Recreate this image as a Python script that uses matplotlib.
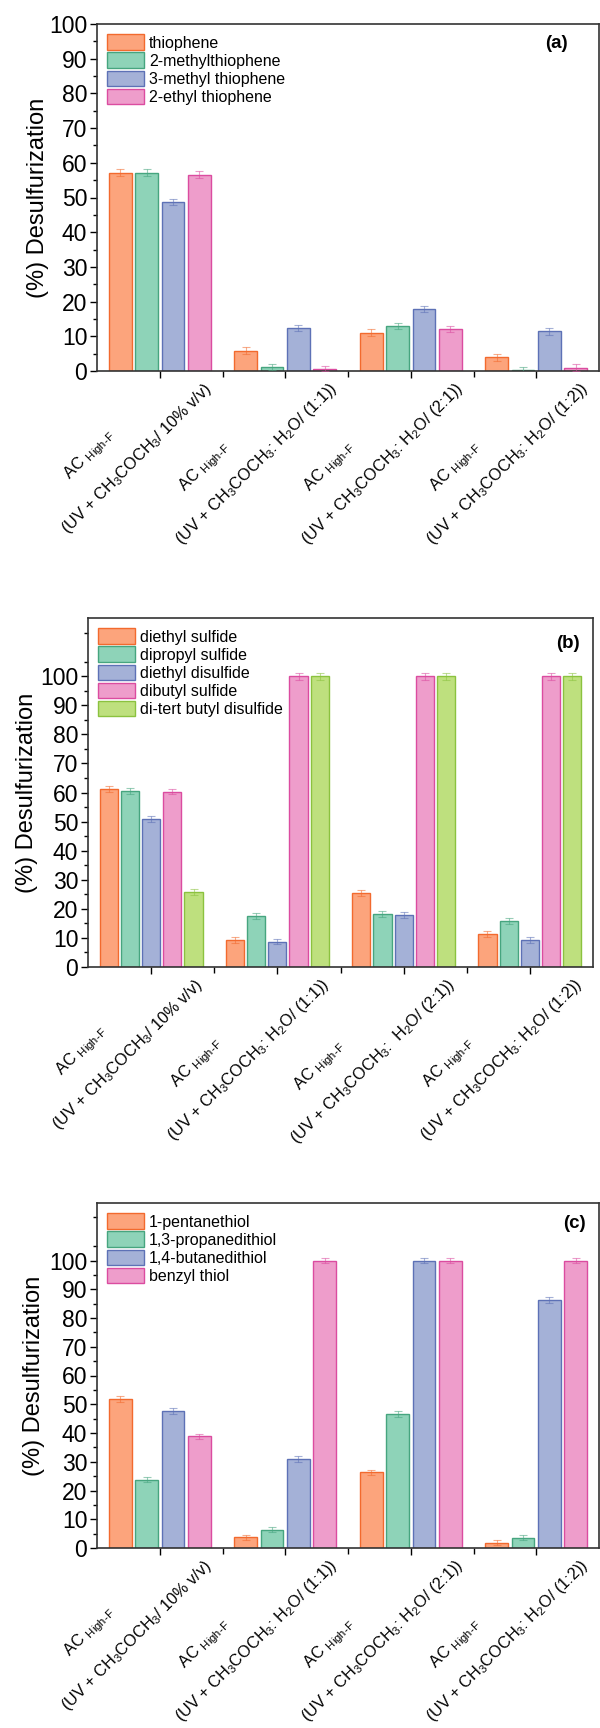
import numpy as np
import matplotlib
matplotlib.use('Agg')
import matplotlib.pyplot as plt
from matplotlib.transforms import ScaledTranslation

plt.rcParams['font.family'] = ['Liberation Sans', 'DejaVu Sans']
plt.rcParams['mathtext.fontset'] = 'custom'
plt.rcParams['mathtext.rm'] = 'Liberation Sans'
plt.rcParams['mathtext.it'] = 'Liberation Sans:italic'
plt.rcParams['mathtext.bf'] = 'Liberation Sans:bold'

# conditions (x categories)
lead = ' ' * 9
ac = lead + r'AC $_{\text{High-F}}$'
cond_a = [ac + '\n' + r'(UV + CH$_3$COCH$_3$/ 10% v/v)',
          ac + '\n' + r'(UV + CH$_3$COCH$_3$: H$_2$O/ (1:1))',
          ac + '\n' + r'(UV + CH$_3$COCH$_3$: H$_2$O/ (2:1))',
          ac + '\n' + r'(UV + CH$_3$COCH$_3$: H$_2$O/ (1:2))']
cond_b = [cond_a[0], cond_a[1],
          ac + '\n' + r'(UV + CH$_3$COCH$_3$:  H$_2$O/ (2:1))',
          cond_a[3]]

# panel (a) - thiophenes
names_a = ['thiophene', '2-methylthiophene', '3-methyl thiophene', '2-ethyl thiophene']
thiophene = [57.1, 5.9, 11.0, 4.0]
methylthiophene2 = [57.1, 1.2, 12.9, 0.3]
methylthiophene3 = [48.7, 12.4, 17.8, 11.4]
ethylthiophene2 = [56.6, 0.7, 12.2, 1.0]
err_a = [[1.0, 1.0, 1.0, 1.0], [1.0, 0.8, 0.9, 0.8],
         [1.0, 1.0, 0.9, 1.1], [0.9, 0.7, 0.9, 0.9]]

# panel (b) - sulfides
names_b = ['diethyl sulfide', 'dipropyl sulfide', 'diethyl disulfide',
           'dibutyl sulfide', 'di-tert butyl disulfide']
diethyl_sulfide = [61.1, 9.2, 25.5, 11.3]
dipropyl_sulfide = [60.6, 17.6, 18.2, 15.7]
diethyl_disulfide = [50.9, 8.7, 17.9, 9.4]
dibutyl_sulfide = [60.3, 100, 100, 100]
ditertbutyl_disulfide = [25.9, 100, 100, 100]
err_b = [[1.0, 1.0, 1.0, 1.0], [1.0, 1.0, 1.0, 1.0], [0.9, 0.9, 1.1, 1.0],
         [0.9, 1.2, 1.2, 1.2], [1.0, 1.2, 1.2, 1.2]]

# panel (c) - thiols
names_c = ['1-pentanethiol', '1,3-propanedithiol', '1,4-butanedithiol', 'benzyl thiol']
pentanethiol = [51.8, 3.7, 26.3, 1.8]
propanedithiol = [23.7, 6.4, 46.6, 3.6]
butanedithiol = [47.7, 30.9, 100, 86.3]
benzyl_thiol = [38.8, 100, 100, 100]
err_c = [[1.0, 0.9, 1.0, 0.9], [0.9, 1.0, 1.0, 0.9],
         [1.0, 1.0, 1.0, 1.0], [1.0, 1.0, 1.0, 1.0]]

fills = ['#FCA47C', '#8ED3B8', '#A4B1D7', '#EE9DCB', '#BEE07E']
edges = ['#F26A2E', '#46A57F', '#5D71B6', '#DB4CA0', '#8BC23F']

fig = plt.figure(figsize=(6, 17.28), dpi=100)


def panel(rect, series, errs, names, conds, ytop, tag, tagxy, ylab_x):
    ax = fig.add_axes(rect)
    n = len(series)
    pitch = 0.84 / n
    width = pitch * 0.86
    x = np.arange(1, len(conds) + 1)
    for i, (vals, e) in enumerate(zip(series, errs)):
        pos = x + (i - (n - 1) / 2) * pitch
        ax.bar(pos, vals, width, color=fills[i], edgecolor=edges[i],
               linewidth=1.0, label=names[i], zorder=2)
        ax.errorbar(pos, vals, yerr=e, fmt='none', ecolor=edges[i], alpha=0.55,
                    elinewidth=0.8, capsize=3, capthick=0.8, zorder=3)
    ax.set_xlim(0.5, len(conds) + 0.5)
    ax.set_ylim(0, ytop)
    ax.set_yticks(np.arange(0, 101, 10))
    ax.set_yticks(np.arange(5, ytop, 10), minor=True)
    ax.set_xticks(x)
    ax.set_xticks(x[:-1] + 0.5, minor=True)
    ax.tick_params(axis='y', which='major', labelsize=16.5, length=5, width=1, pad=2)
    ax.tick_params(axis='y', which='minor', length=3, width=1)
    ax.tick_params(axis='x', which='major', length=5, width=1, pad=2)
    ax.tick_params(axis='x', which='minor', length=4, width=1)
    ax.set_xticklabels(conds, rotation=45, ha='right', va='bottom',
                       rotation_mode='anchor', fontsize=11.7,
                       multialignment='left', linespacing=2.1)
    # shift the rotated labels up the diagonal like the original
    off = ScaledTranslation(0.56, -0.12, fig.dpi_scale_trans)
    for lab in ax.get_xticklabels():
        lab.set_transform(lab.get_transform() + off)
    for s in ax.spines.values():
        s.set_color('#333333')
        s.set_linewidth(1.2)
    ax.set_ylabel('(%) Desulfurization', fontsize=17)
    ax.yaxis.set_label_coords(ylab_x, 0.5)
    ax.legend(loc='upper left', frameon=False, fontsize=11.5, handlelength=2.3,
              handleheight=1.12, labelspacing=0.12, handletextpad=0.3,
              borderaxespad=0.35, borderpad=0.3)
    ax.text(tagxy[0], tagxy[1], tag, transform=ax.transAxes, ha='right', va='top',
            fontsize=13.5, fontweight='bold')
    return ax


panel([97 / 600, 1 - 371 / 1728, 502 / 600, 347 / 1728],
      [thiophene, methylthiophene2, methylthiophene3, ethylthiophene2], err_a,
      names_a, cond_a, 100, '(a)', (0.938, 0.968), -0.096)
panel([88 / 600, 1 - 967 / 1728, 505 / 600, 349 / 1728],
      [diethyl_sulfide, dipropyl_sulfide, diethyl_disulfide, dibutyl_sulfide,
       ditertbutyl_disulfide], err_b, names_b, cond_b, 120, '(b)', (0.974, 0.95), -0.099)
panel([97 / 600, 1 - 1548 / 1728, 502 / 600, 345 / 1728],
      [pentanethiol, propanedithiol, butanedithiol, benzyl_thiol], err_c,
      names_c, cond_a, 120, '(c)', (0.974, 0.965), -0.104)

fig.savefig('out.png', dpi=100)
